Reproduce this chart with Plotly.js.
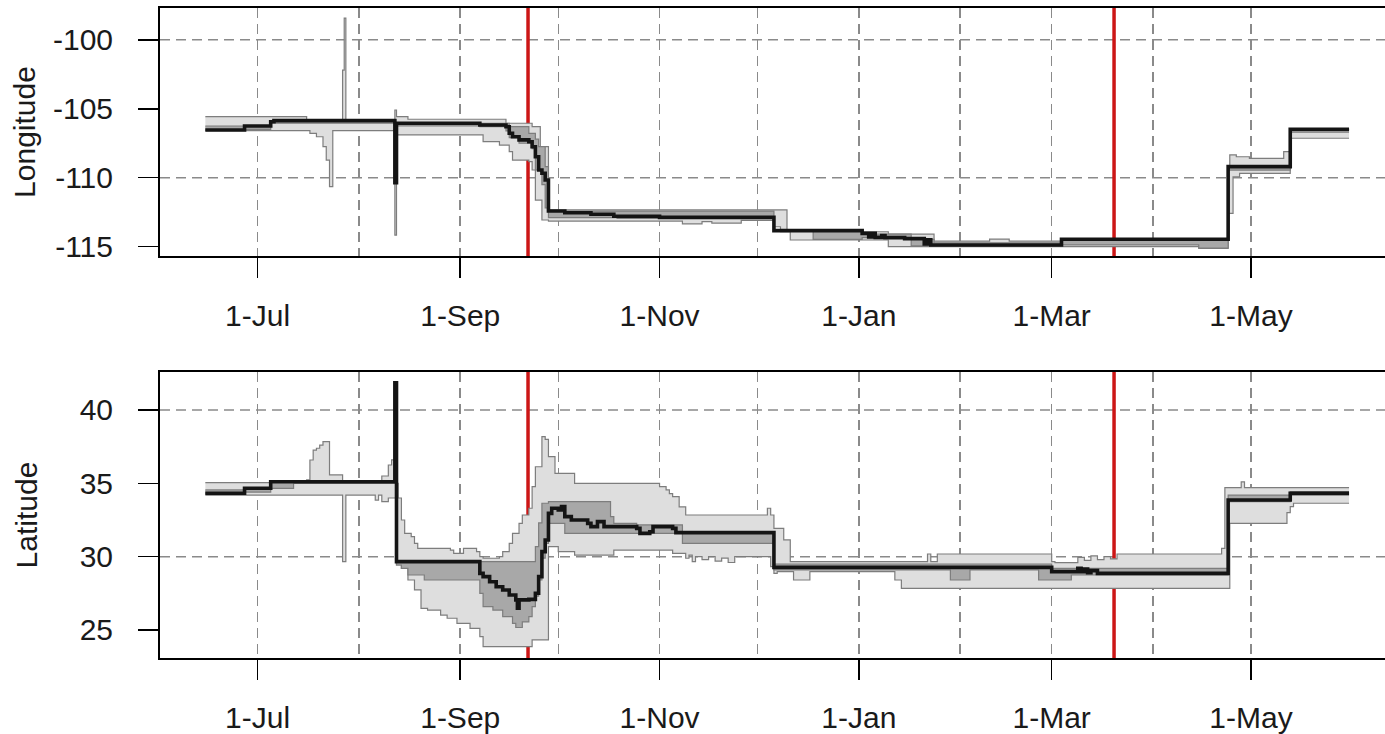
<!DOCTYPE html>
<html>
<head>
<meta charset="utf-8">
<script src="https://cdn.plot.ly/plotly-3.0.1.min.js"></script>
<style>html,body{margin:0;padding:0;background:#fff;}#chart{width:1385px;height:734px;}</style>
</head>
<body>
<div id="chart"></div>
<script>
// ---------- Tick labels / reference dates ----------
var tickDates = ['2014-07-01','2014-09-01','2014-11-01','2015-01-01','2015-03-01','2015-05-01'];
var tickLabels = ['1-Jul','1-Sep','1-Nov','1-Jan','1-Mar','1-May'];
var monthGridDates = ['2014-08-01','2014-10-01','2014-12-01','2015-02-01','2015-04-01'];
var equinoxDates = ['2014-09-21 18:00','2015-03-20 02:00'];
var lonTicks = [-115,-110,-105,-100];
var lonTickLabels = ['-115','-110','-105','-100'];
var lonGrid = [-110,-100];
var latTicks = [25,30,35,40];
var latTickLabels = ['25','30','35','40'];
var latGrid = [30,40];

// ---------- Longitude: median ----------
var lonMedX = ['2014-06-15','2014-06-27','2014-07-05','2014-07-06','2014-08-12 00:00','2014-08-12 12:00','2014-09-07','2014-09-15','2014-09-16','2014-09-17','2014-09-19','2014-09-22','2014-09-23','2014-09-24','2014-09-25','2014-09-26','2014-09-27','2014-09-28','2014-10-03','2014-10-11','2014-10-18','2014-11-01','2014-12-06','2015-01-02','2015-01-04','2015-01-05','2015-01-06','2015-01-08','2015-01-09','2015-01-15','2015-01-21','2015-01-22','2015-01-23','2015-03-04','2015-04-24','2015-05-13','2015-05-31'];
var lonMedY = [-106.54,-106.25,-105.94,-105.86,-110.36,-106.05,-106.18,-106.30,-106.78,-107.03,-107.26,-107.39,-107.75,-108.48,-109.44,-109.68,-110.17,-112.42,-112.54,-112.65,-112.80,-112.88,-113.84,-114.04,-114.30,-114.04,-114.33,-114.20,-114.35,-114.42,-114.80,-114.50,-114.88,-114.47,-109.20,-106.49,-106.49];

// ---------- Longitude: outer (light) band ----------
var lonHiX = ['2014-06-15','2014-07-16','2014-07-27 00:00','2014-07-27 12:00','2014-07-28','2014-08-12 00:00','2014-08-12 12:00','2014-08-16','2014-09-15','2014-09-23','2014-09-25 12:00','2014-09-28','2014-12-10','2015-01-02','2015-01-10','2015-01-24','2015-02-10','2015-02-16','2015-03-04','2015-04-24','2015-04-24 12:00','2015-04-26 12:00','2015-04-30 12:00','2015-05-11','2015-05-13','2015-05-31'];
var lonHiY = [-105.57,-105.86,-102.19,-98.43,-105.86,-105.09,-105.57,-105.76,-106.05,-106.30,-107.75,-112.34,-113.84,-113.92,-114.10,-114.60,-114.45,-114.60,-114.47,-109.20,-108.35,-108.48,-108.60,-108.11,-106.49,-106.49];
var lonLoX = ['2014-06-15','2014-07-17','2014-07-19','2014-07-21','2014-07-22','2014-07-23','2014-07-24','2014-08-12 00:00','2014-08-12 12:00','2014-09-08','2014-09-13','2014-09-16','2014-09-17','2014-09-22','2014-09-23','2014-09-24','2014-09-26','2014-09-28','2014-11-08','2014-11-14','2014-11-17','2014-11-26','2014-12-06','2014-12-08','2014-12-11','2015-01-10','2015-04-15','2015-04-24','2015-04-25 12:00','2015-04-27 12:00','2015-05-13','2015-05-31'];
var lonLoY = [-106.59,-106.78,-107.03,-107.75,-108.72,-110.65,-106.59,-114.16,-106.90,-107.39,-107.63,-108.11,-108.72,-108.84,-109.44,-111.62,-113.07,-113.15,-113.35,-113.19,-113.30,-113.10,-113.56,-113.92,-114.52,-115.00,-115.12,-112.59,-109.93,-109.68,-107.14,-107.14];

// ---------- Longitude: inner (dark) band ----------
var lonDkHiX = ['2014-06-15','2014-06-27','2014-07-05','2014-08-12 00:00','2014-08-12 12:00','2014-09-07','2014-09-16','2014-09-22','2014-09-24','2014-09-25','2014-09-27','2014-09-28','2014-12-06','2014-12-18','2015-01-02','2015-01-17','2015-01-24','2015-03-04','2015-04-24','2015-05-13','2015-05-31'];
var lonDkHiY = [-106.25,-106.25,-105.86,-110.36,-106.05,-106.05,-106.30,-106.78,-107.20,-107.75,-109.20,-112.42,-113.84,-113.84,-114.10,-114.47,-114.72,-114.47,-109.20,-106.49,-106.49];
var lonDkLoX = ['2014-06-15','2014-06-27','2014-07-05','2014-08-12 00:00','2014-08-12 12:00','2014-09-07','2014-09-15','2014-09-16','2014-09-19','2014-09-23','2014-09-24','2014-09-26','2014-09-27','2014-09-28','2014-10-19','2014-12-06','2014-12-18','2015-01-02','2015-01-17','2015-01-24','2015-03-04','2015-04-15','2015-04-24','2015-05-13','2015-05-31'];
var lonDkLoY = [-106.54,-106.49,-106.05,-110.36,-106.25,-106.30,-106.60,-107.10,-107.50,-107.90,-109.44,-110.50,-112.20,-112.90,-112.95,-113.84,-114.47,-114.35,-114.95,-114.98,-114.88,-115.10,-109.45,-106.70,-106.70];

// ---------- Latitude: median ----------
var latMedX = ['2014-06-15','2014-06-27','2014-07-05','2014-08-12 00:00','2014-08-12 12:00','2014-09-07','2014-09-08','2014-09-10','2014-09-12','2014-09-14','2014-09-16','2014-09-18','2014-09-18 12:00','2014-09-19','2014-09-22','2014-09-24','2014-09-25','2014-09-26','2014-09-27','2014-09-28','2014-09-29','2014-10-01','2014-10-02','2014-10-03','2014-10-05','2014-10-10','2014-10-11','2014-10-13','2014-10-15','2014-10-25','2014-10-26','2014-10-29','2014-10-30','2014-11-05','2014-11-06','2014-12-06','2015-03-01','2015-03-09','2015-03-10','2015-03-11','2015-03-12','2015-03-13','2015-03-15','2015-04-24','2015-05-13','2015-05-31'];
var latMedY = [34.32,34.66,35.11,41.86,29.66,28.86,28.64,28.29,27.95,27.73,27.39,27.05,26.48,27.05,27.09,27.50,28.64,30.34,31.14,32.95,33.30,33.18,33.41,32.73,32.50,32.27,32.05,32.39,32.05,31.93,31.59,31.70,32.05,31.93,31.64,29.27,28.98,29.20,28.98,29.15,28.90,29.05,28.86,33.86,34.32,34.32];

// ---------- Latitude: outer (light) band ----------
var latHiX = ['2014-06-15','2014-07-16','2014-07-17','2014-07-18','2014-07-19','2014-07-20','2014-07-21','2014-07-23','2014-07-27','2014-08-08','2014-08-10','2014-08-11','2014-08-12 00:00','2014-08-12 12:00','2014-08-13','2014-08-14','2014-08-15','2014-08-17','2014-08-18','2014-08-19','2014-08-29','2014-08-30','2014-09-02','2014-09-06','2014-09-07','2014-09-08','2014-09-13','2014-09-14','2014-09-16','2014-09-17','2014-09-19','2014-09-20','2014-09-22','2014-09-23','2014-09-24','2014-09-26','2014-09-27','2014-09-28','2014-09-30','2014-10-06','2014-11-01','2014-11-03','2014-11-04','2014-11-05','2014-11-07','2014-11-09','2014-12-04','2014-12-05','2014-12-06','2014-12-09','2014-12-11','2015-01-22','2015-01-23','2015-01-25','2015-03-01','2015-03-02','2015-03-09','2015-03-11','2015-03-13','2015-03-15','2015-03-17','2015-03-19','2015-03-21','2015-04-22','2015-04-23','2015-04-28','2015-04-29','2015-05-31'];
var latHiY = [35.05,35.23,36.59,37.27,37.39,37.61,37.84,35.57,35.11,35.50,36.25,36.60,41.86,35.00,34.00,32.50,31.59,31.36,30.91,30.57,30.45,30.23,30.57,30.34,30.00,29.89,30.00,30.34,30.91,31.59,32.27,32.84,33.30,34.77,36.13,38.18,38.00,36.82,35.68,35.00,34.77,34.55,34.30,34.09,33.40,32.84,33.30,32.84,31.93,31.14,29.66,30.18,29.66,30.18,29.66,29.59,29.95,29.75,30.05,29.80,30.00,29.85,30.18,30.57,34.70,35.10,34.70,34.70];
var latLoX = ['2014-06-15','2014-07-27','2014-07-28','2014-08-06','2014-08-07','2014-08-08','2014-08-10','2014-08-12 12:00','2014-08-14','2014-08-16','2014-08-18','2014-08-20','2014-08-22','2014-08-26','2014-08-28','2014-08-31','2014-09-04','2014-09-07','2014-09-08','2014-09-23','2014-09-28','2014-10-01','2014-10-06','2014-10-18','2014-11-05','2014-11-09','2014-11-10','2014-11-11','2014-11-12','2014-11-14','2014-11-16','2014-11-18','2014-11-20','2014-11-22','2014-11-24','2014-12-05','2014-12-06','2014-12-07','2014-12-12','2014-12-17','2015-01-12','2015-01-14','2015-04-24 12:00','2015-05-12','2015-05-13','2015-05-14','2015-05-31'];
var latLoY = [34.20,29.66,34.20,33.86,34.20,33.75,34.00,29.43,29.20,28.41,27.73,26.48,26.36,26.02,25.80,25.45,25.11,24.55,23.86,24.32,30.68,30.34,30.11,30.45,30.23,29.89,30.10,29.66,30.00,29.80,30.00,29.70,29.90,29.60,30.00,29.32,28.86,28.98,28.41,28.98,28.41,27.84,32.27,33.00,33.41,33.64,33.64];

// ---------- Latitude: inner (dark) band ----------
var latDkHiX = ['2014-06-15','2014-06-27','2014-07-05','2014-08-12 00:00','2014-08-12 12:00','2014-09-23','2014-09-24','2014-09-25','2014-09-26','2014-09-28','2014-10-17','2014-10-18','2014-10-25','2014-11-08','2014-12-06','2015-03-01','2015-04-24','2015-05-13','2015-05-31'];
var latDkHiY = [34.55,34.66,35.11,41.86,29.66,29.66,30.68,32.30,33.64,33.75,32.73,32.27,32.16,31.64,29.50,29.20,34.20,34.43,34.43];
var latDkLoX = ['2014-06-15','2014-06-27','2014-07-05','2014-07-12','2014-08-12 12:00','2014-08-14','2014-08-16','2014-08-21','2014-09-07','2014-09-08','2014-09-11','2014-09-14','2014-09-17','2014-09-18','2014-09-20','2014-09-22','2014-09-23','2014-09-24','2014-09-25','2014-09-26','2014-09-27','2014-09-28','2014-10-03','2014-11-08','2014-12-06','2015-01-29','2015-02-04','2015-02-25','2015-03-07','2015-04-24','2015-05-13','2015-05-31'];
var latDkLoY = [34.32,34.40,34.66,35.00,29.43,29.20,28.75,28.41,27.50,26.59,26.36,25.91,25.45,25.17,25.55,25.91,26.59,27.30,28.41,29.90,30.90,32.27,31.59,30.91,29.09,28.41,29.09,28.41,28.75,33.75,34.20,34.20];

// ---------- Axis ranges ----------
var xRange = ['2014-06-01 03:00', '2015-06-11 00:00'];
var lonRange = [-115.68, -97.69];
var latRange = [23.09, 42.59];

// ---------- Build the figure ----------
var LIGHT = '#dedede', DARK = '#a8a8a8', EDGE = '#7d7d7d';
var GRIDC = '#8a8a8a', GRIDD = '10px,6px', RED = '#cc1616';
var FONT = 'Liberation Sans, Arial, Helvetica, sans-serif';

function band(xl, yl, xh, yh, col, xa, ya) {
  return [
    {x: xl, y: yl, xaxis: xa, yaxis: ya, type: 'scatter', mode: 'lines',
     line: {shape: 'hv', color: EDGE, width: 1.2}, hoverinfo: 'skip', showlegend: false},
    {x: xh, y: yh, xaxis: xa, yaxis: ya, type: 'scatter', mode: 'lines', fill: 'tonexty',
     fillcolor: col, line: {shape: 'hv', color: EDGE, width: 1.2}, hoverinfo: 'skip', showlegend: false}
  ];
}
function median(x, y, xa, ya) {
  return {x: x, y: y, xaxis: xa, yaxis: ya, type: 'scatter', mode: 'lines',
          line: {shape: 'hv', color: '#141414', width: 3.6}, hoverinfo: 'skip', showlegend: false};
}
function hGrid(vals, xa, ya) {
  return vals.map(function (v) {
    return {x: xRange, y: [v, v], xaxis: xa, yaxis: ya, type: 'scatter', mode: 'lines',
            line: {color: GRIDC, width: 1.5, dash: GRIDD}, hoverinfo: 'skip', showlegend: false};
  });
}
function redLines(rng, xa, ya) {
  return equinoxDates.map(function (d) {
    return {x: [d, d], y: rng, xaxis: xa, yaxis: ya, type: 'scatter', mode: 'lines',
            line: {color: RED, width: 3.5}, hoverinfo: 'skip', showlegend: false};
  });
}

// Grid + equinox lines first, then bands and medians drawn over them
var data = []
  .concat(hGrid(lonGrid, 'x', 'y'))
  .concat(redLines(lonRange, 'x', 'y'))
  .concat(band(lonLoX, lonLoY, lonHiX, lonHiY, LIGHT, 'x', 'y'))
  .concat(band(lonDkLoX, lonDkLoY, lonDkHiX, lonDkHiY, DARK, 'x', 'y'))
  .concat([median(lonMedX, lonMedY, 'x', 'y')])
  .concat(hGrid(latGrid, 'x2', 'y2'))
  .concat(redLines(latRange, 'x2', 'y2'))
  .concat(band(latLoX, latLoY, latHiX, latHiY, LIGHT, 'x2', 'y2'))
  .concat(band(latDkLoX, latDkLoY, latDkHiX, latDkHiY, DARK, 'x2', 'y2'))
  .concat([median(latMedX, latMedY, 'x2', 'y2')]);

function xaxis(anchor) {
  return {
    type: 'date', anchor: anchor, domain: [0, 1], range: xRange,
    tickmode: 'array', tickvals: tickDates, ticktext: tickLabels,
    ticks: 'outside', ticklen: 20, tickwidth: 1.5, tickcolor: '#000',
    ticklabelstandoff: 12,
    tickfont: {family: FONT, size: 30, color: '#1a1a1a'},
    showline: true, mirror: true, linecolor: '#000', linewidth: 2,
    showgrid: true, gridcolor: GRIDC, gridwidth: 1.5, griddash: GRIDD,
    minor: {tickmode: 'array', tickvals: monthGridDates, showgrid: true, gridcolor: GRIDC, gridwidth: 1.5, griddash: GRIDD, ticks: ''},
    zeroline: false, fixedrange: true
  };
}
function yaxis(anchor, dom, rng, tv, tt, title, standoff) {
  return {
    anchor: anchor, domain: dom, range: rng,
    tickmode: 'array', tickvals: tv, ticktext: tt,
    ticks: 'outside', ticklen: 20, tickwidth: 1.5, tickcolor: '#000',
    ticklabelstandoff: 19,
    tickfont: {family: FONT, size: 30, color: '#1a1a1a'},
    showline: true, mirror: false, linecolor: '#000', linewidth: 2,
    showgrid: false, zeroline: false, fixedrange: true,
    title: {text: title, font: {family: FONT, size: 30, color: '#1a1a1a'}, standoff: standoff}
  };
}

var layout = {
  width: 1385, height: 734,
  margin: {l: 160, r: 0, t: 0, b: 0},
  paper_bgcolor: '#fff', plot_bgcolor: '#fff',
  showlegend: false,
  xaxis: xaxis('y'),
  yaxis: yaxis('x', [0.65123, 0.98910], lonRange, lonTicks, lonTickLabels, 'Longitude', 8),
  xaxis2: xaxis('y2'),
  yaxis2: yaxis('x2', [0.10354, 0.49319], latRange, latTicks, latTickLabels, 'Latitude', 33)
};

Plotly.newPlot('chart', data, layout, {displayModeBar: false, staticPlot: true});
</script>
</body>
</html>
